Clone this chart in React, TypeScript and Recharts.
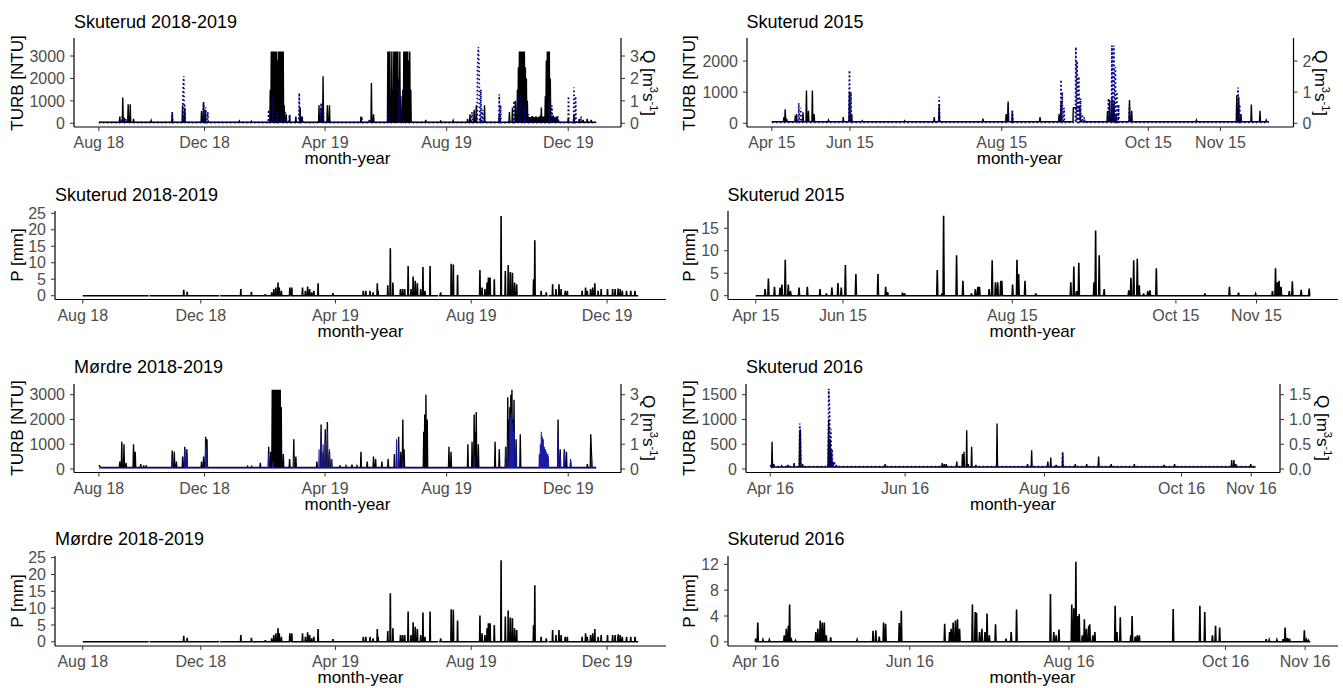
import React from 'react';
import { ComposedChart, Line, XAxis, YAxis } from 'recharts';

type Pt = (number | null)[];

// ---------- x ticks (days from first labelled date) ----------
const ticks1819 = [0, 106, 227, 349, 471];
const labels1819 = ['Aug 18', 'Dec 18', 'Apr 19', 'Aug 19', 'Dec 19'];
const end1819 = 499;
const ticks2015 = [0, 31.6, 93, 152.3, 181.5];
const labels2015 = ['Apr 15', 'Jun 15', 'Aug 15', 'Oct 15', 'Nov 15'];
const end2015 = 201;
const ticks2016 = [0, 60, 122, 183, 214];
const labels2016 = ['Apr 16', 'Jun 16', 'Aug 16', 'Oct 16', 'Nov 16'];
const end2016 = 216;

// ---------- titles ----------
const titles = [
  'Skuterud 2018-2019', 'Skuterud 2018-2019', 'Mørdre 2018-2019', 'Mørdre 2018-2019',
  'Skuterud 2015', 'Skuterud 2015', 'Skuterud 2016', 'Skuterud 2016',
];

// ---------- series: [day, value] = spike, [day, value, 0] = plain point, [day, null] = gap ----------
const skuterud1819Turb: Pt[] = [
  [0, 50, 0], [21, 300], [24, 1150], [25.6, 250], [29.4, 850], [31.5, 850], [34.8, 200], [52.5, 120], [73.6, 450], [84, 800], [86.2, 650],
  [103, 550], [105, 900], [107, 600], [141, 100], [153, 90],
  [172, 1500], [173, 3200], [174, 3200], [175, 3200], [176, 3200], [177, 3200], [178, 3200], [179, 2800], [180, 3200], [181, 3200], [182, 3200],
  [183, 3200], [184, 3200], [185, 3200], [186, 800], [188, 400],
  [191.4, 350], [197.7, 300], [202, 700], [204, 300], [220.9, 800], [223, 700], [225, 2100], [229.3, 800], [231.4, 800], [263, 300], [273.5, 1800], [275.6, 400],
  [290, 3200], [291, 3200], [292, 3200], [293, 800], [294, 3200], [295, 1500], [296, 3200], [297, 3200], [298, 3200], [299, 3200], [300, 3200],
  [301, 2000], [302, 3200], [303, 1200], [304, 600], [305, 1500], [306, 3200], [307, 3200], [308, 3200], [309, 3200], [310, 3200], [311, 2800], [312, 3200], [313, 1500],
  [328, 150], [343, 130], [355.5, 120], [370, 200], [372.4, 400], [376.6, 600], [378.7, 800], [383, 200], [387, 800], [401.8, 400], [412, 500], [415, 700],
  [418, 1000], [420, 1500], [421, 2500], [422, 3200], [423, 3200], [424, 3200], [425, 3200], [426, 3200], [427, 3200], [428, 2500], [429, 2000], [430, 1000],
  [431, 300], [432, 280], [433, 260], [434, 300], [435, 320], [436, 280], [437, 250], [438, 300], [439, 300], [440, 260], [441, 280], [442, 300],
  [443, 350], [444, 700], [445, 300], [446, 300], [447, 300], [448, 1200], [449, 2800], [450, 3200], [451, 3200], [452, 3200], [453, 2000],
  [454, 300], [455, 350], [456, 350], [457, 280], [458, 250], [459, 300], [460, 300], [461, 150],
  [471, 200], [476.8, 400], [482, 200], [486, 150], [490, 200], [494, 150], [499, 50, 0],
];
const skuterud1819Q: Pt[] = [
  [0, 0.03, 0], [23, 0.3], [27.3, 0.2], [73.6, 0.5], [84.5, 1.6], [85.2, 2.1], [86.2, 0.8], [105.1, 0.95], [107.2, 0.7], [109.3, 0.5],
  [170.4, 0.6], [174.6, 1.2], [178.8, 0.5], [183, 0.3], [187.2, 0.5], [191.4, 0.4], [201.1, 1.35], [204, 0.3], [223, 0.9], [225.1, 0.7],
  [263.8, 0.3], [271.4, 0.2], [290.3, 0.6], [300.8, 1.6], [302.1, 1.4], [374.5, 0.5], [380, 2.5], [380.8, 3.4], [381.6, 2.5], [383.3, 1.5], [385, 0.6],
  [401.8, 1.3], [403.1, 0.8], [416.6, 1.0], [420.8, 1.4], [422.9, 1.2], [427.1, 0.8], [431.3, 0.4], [452.3, 1.2], [454.5, 0.8], [460.8, 0.3],
  [471.3, 1.2], [476.8, 1.6], [478.4, 1.2], [483.9, 0.3], [499, 0.03, 0],
];
// precipitation 2018-2019 (same record shown in both left P panels)
const precip1819: Pt[] = [
  [0, 0, 0], [59.2, 0, 0], [59.6, null], [60, 0, 0], [90.7, 1.8], [93.8, 1.2], [122.6, 0, 0], [123, null], [123.4, 0, 0], [142, 2.0], [151.5, 1.2],
  [164, 0.5], [169.7, 1.0], [171.6, 2.0], [173.5, 2.5], [175.4, 4.0], [176.5, 2.5], [178.4, 1.5], [186, 2.5], [186.6, 0, 0], [186.8, null], [187.1, 0, 0],
  [187.8, 2.5], [197.4, 2.5], [200, 1.5], [202, 2.8], [203.8, 2.0], [205.7, 1.0], [207.6, 1.5], [211.4, 3.8], [224.7, 0.8], [252, 1.5], [254.3, 1.5],
  [258.1, 1.5], [260.8, 1.0], [264.6, 3.8], [265.3, 1.5], [274, 3.2], [276.3, 14.4], [278.6, 4.0], [285.4, 2.0], [287.3, 2.0], [289.2, 2.0],
  [292.3, 9.0], [294.9, 2.0], [296.8, 5.8], [298.7, 4.5], [300.6, 3.8], [303.6, 2.0], [305.6, 8.7], [307.4, 1.5], [312, 9.0],
  [319.2, 0, 0], [319.6, null], [320, 0, 0], [321.5, 1.0], [331, 9.7], [332.9, 9.5], [336.7, 6.3], [356.8, 7.8], [358.7, 2.5], [361.3, 2.0],
  [363.2, 4.0], [364.4, 5.5], [365.9, 5.5], [369.7, 5.0], [375.8, 24.2], [379.6, 7.5], [382.2, 9.3], [384.1, 7.2], [386, 7.0], [387.9, 4.0],
  [389.8, 3.5], [405, 5.0], [406.1, 16.8], [411.8, 1.5], [416.4, 1.0], [417.6, 0, 0], [418, null], [418.4, 0, 0], [422.1, 3.5], [425.1, 2.0],
  [427.8, 3.5], [429.7, 2.0], [433.4, 1.5], [435.3, 1.5], [448.6, 1.5], [451.7, 2.5], [453.2, 1.5], [456.2, 2.0], [458.1, 2.5], [460, 3.8],
  [463, 1.5], [465.7, 2.0], [471.4, 2.0], [476, 2.0], [478.2, 2.0], [480.9, 2.2], [482.8, 2.0], [484.7, 1.5], [488.5, 1.5], [492.3, 1.5],
  [496.1, 1.5], [499, 0, 0],
];
const mordre1819Turb: Pt[] = [
  [0, 150, 0], [2, 60, 0], [21, 300], [23, 1100], [25.2, 1000], [27.3, 250], [34.8, 1000], [36.5, 700], [42, 200], [45, 150], [47.5, 150],
  [73.6, 750], [75.7, 700], [77.8, 300], [84.1, 500], [86.2, 900], [88.3, 800], [103, 300], [105.1, 500], [107.2, 1300], [108.5, 1200],
  [149.3, 100], [153.5, 100], [162, 250], [170.4, 900], [172.5, 700],
  [174, 3200], [175, 3200], [176, 3200], [177, 3200], [178, 3200], [179, 3200], [180, 3200], [181, 3200], [182, 3200], [183, 2500], [185.1, 600],
  [191.4, 400], [195.6, 1200], [197.7, 500], [218.8, 300], [223, 1800], [225.1, 700], [227.2, 1600], [229.3, 1900], [231.4, 700], [233.5, 400],
  [242, 150], [248, 120], [254, 180], [259, 120], [263, 700], [269.3, 300], [275.6, 500], [277.7, 400], [284, 300], [290.3, 400], [296.6, 600],
  [300.8, 1300], [303, 700], [305, 2000], [306.3, 800], [326, 1500], [327, 2200], [328.2, 3000], [329.5, 2000], [351.3, 900], [353.4, 700],
  [370.3, 1000], [374.5, 1100], [376.6, 2200], [377.6, 1500], [378.7, 2300], [380.8, 1000], [397.6, 1100], [401.8, 800], [408.2, 900],
  [410.3, 2900], [411.3, 2000], [412.4, 2500], [413.4, 3000], [414.5, 3200], [415.5, 2000], [416.6, 2800], [418.7, 1200], [422.9, 1400],
  [444, 700], [446, 900], [448.1, 700], [450.2, 600], [460.8, 2000], [462.9, 800], [467.1, 800], [469.2, 700], [473.4, 300], [490.2, 200],
  [493.6, 1400], [494.4, 500], [499, 60, 0],
];
const mordre1819Q: Pt[] = [
  [0, 0.04, 0], [73.6, 0.4], [86.2, 0.8], [88.3, 0.6], [107.2, 1.0], [108.5, 0.8], [170.4, 0.6], [174.6, 0.3], [195.6, 0.5], [221, 0.8],
  [223, 1.5], [225.1, 1.0], [227.2, 1.2], [229.3, 1.5], [231.4, 0.8], [233.5, 0.4], [298.7, 1.2], [300.8, 0.8], [305, 0.4], [376.6, 0.5],
  [408.2, 0.8], [410.3, 1.2], [412.4, 2.0], [413.4, 2.2], [414.5, 2.3], [415.5, 1.8], [416.6, 1.5], [418.7, 0.8], [442, 0.6], [443, 1.0],
  [444, 1.5], [445, 1.3], [446, 1.2], [447, 0.9], [448.1, 0.8], [449, 0.7], [450.2, 0.6], [451, 0.5], [460.8, 1.4], [462.9, 0.6], [467.1, 0.8],
  [473.4, 0.4], [494.4, 0.5], [499, 0.04, 0],
];
const skuterud2015Turb: Pt[] = [
  [0, 50, 0], [4.9, 200], [5.4, 450], [6.1, 100], [9.5, 250], [10, 300], [12.6, 350], [14, 1050], [14.8, 400], [16.4, 1050], [17.1, 300],
  [22.9, 100], [28.9, 200], [31.4, 1000], [32.3, 300], [36.6, 80], [53.7, 80], [65.7, 200], [67.7, 600], [85.4, 150], [94.8, 300], [95.6, 700],
  [97.3, 400], [108.5, 200], [116.2, 300], [117, 700], [121.8, 50, 0], [122, 500, 0], [124.6, 500, 0], [124.8, 50, 0], [135.8, 400], [136.7, 750],
  [137.6, 800], [138.4, 700], [139.3, 300], [144.7, 750], [145.6, 400], [171.8, 100], [188.1, 900], [188.9, 850], [189.8, 300], [194, 600],
  [197.5, 400], [200, 100], [201, 50, 0],
];
const skuterud2015Q: Pt[] = [
  [0, 0.03, 0], [10.9, 0.65], [11.7, 0.5], [31.4, 1.7], [32, 1.0], [67.7, 0.85], [95.6, 0.6], [97.3, 0.4], [117, 1.4], [117.5, 1.0], [118.2, 0.5],
  [123, 2.45], [123.5, 2.0], [124.2, 1.5], [124.9, 0.8], [125.6, 0.3], [126.4, 0.2], [136.2, 0.8], [137.6, 2.5], [138.4, 2.5], [139, 1.8],
  [139.6, 1.0], [140.3, 0.6], [144.7, 0.6], [188.6, 1.15], [189.3, 0.6], [201, 0.03, 0],
];
const precip2015: Pt[] = [
  [0, 0, 0], [3.4, 1.5], [4.6, 3.8], [6.8, 2.0], [8.8, 1.8], [9.5, 2.5], [10.7, 8.0], [11.8, 2.5], [12.6, 1.0], [15.7, 1.8], [18.7, 2.0],
  [23.3, 1.5], [25.6, 0.5], [27.6, 1.8], [29.8, 2.8], [31, 1.8], [32.5, 6.8], [36.3, 4.8], [44.3, 4.8], [47.1, 2.0], [47.8, 0.8], [53.2, 0.7],
  [54, 0.5], [65.8, 5.7], [67.5, 0.5], [68.1, 17.8], [72.8, 9.0], [75.1, 3.3], [78.2, 0.5], [79.6, 1.5], [80.5, 2.0], [81.1, 2.0], [84.6, 1.5],
  [85.7, 7.9], [86.9, 3.0], [87.7, 3.0], [88.8, 3.3], [89.2, 3.3], [93.1, 2.5], [94.7, 8.0], [95.3, 4.8], [97.6, 3.3], [101.5, 0.5], [114.2, 3.0],
  [115.3, 6.5], [116.3, 1.0], [117.1, 7.3], [122.6, 3.0], [123.2, 14.5], [124.5, 9.0], [126.3, 1.5], [135.2, 1.2], [136, 4.0], [137, 7.9],
  [138.3, 8.2], [139, 2.3], [140.6, 0.5], [142.1, 1.0], [142.9, 1.2], [145.2, 6.1], [162.8, 0.5], [171.7, 2.0], [175, 0.7], [181.2, 0.4],
  [187.3, 1.0], [188.4, 6.1], [189.1, 3.0], [189.7, 3.3], [190.4, 2.0], [193.4, 1.0], [194.5, 3.2], [197.7, 1.3], [200.6, 1.6], [201, 0, 0],
];
const skuterud2016Turb: Pt[] = [
  [0, 80, 0], [0.8, 550], [1.6, 100], [5, 60], [7.8, 80], [10.6, 120], [13.1, 750], [13.4, 800], [14.4, 100], [25.7, 100], [26, 1000],
  [26.6, 600], [27.2, 300], [27.9, 150], [29.4, 80], [51.1, 100], [76.5, 120], [77.4, 100], [78.3, 100], [83, 150], [85.5, 300], [86.2, 350],
  [87.4, 780], [88.1, 100], [89.6, 450], [91.5, 80], [100.9, 920], [114.5, 100], [116.3, 380], [123.5, 150], [124.8, 230], [127.2, 80],
  [130.1, 300], [135.7, 100], [140.8, 100], [146.1, 250], [151.7, 100], [162, 100], [175.2, 80], [179.9, 100], [205.3, 180], [206.3, 180],
  [207.2, 100], [213.8, 100], [216, 40, 0],
];
const skuterud2016Q: Pt[] = [
  [0, 0.05, 0], [0.8, 0.15], [13.1, 0.92], [13.4, 0.7], [26, 1.62], [26.4, 1.2], [27, 0.8], [27.5, 0.4], [28.5, 0.15], [100.9, 0.15],
  [130.1, 0.35], [216, 0.05, 0],
];
const precip2016: Pt[] = [
  [0, 0.5], [0.8, 3.0], [2.8, 0.3], [5.3, 0.3], [11.1, 1.0], [11.9, 2.0], [12.7, 2.5], [13.2, 5.8], [13.9, 0.3], [15.5, 0.2], [23.4, 1.5],
  [24.2, 2.0], [25.1, 3.3], [25.9, 3.0], [26.7, 3.0], [27.5, 1.0], [29.2, 0.7], [39.5, 0.3], [45.7, 1.7], [46.8, 1.8], [48.1, 0.8], [49.8, 3.0],
  [50.6, 2.8], [55.9, 2.9], [56.7, 4.8], [73.6, 2.8], [75.5, 1.5], [76.1, 2.0], [76.9, 3.0], [77.8, 3.3], [78.6, 3.5], [79.4, 2.0], [84.4, 5.8],
  [85.5, 4.6], [86, 4.5], [87.2, 1.5], [88.1, 2.0], [89.3, 1.5], [90.1, 4.4], [91, 1.0], [93.4, 2.7], [97.5, 0.5], [99.5, 1.5], [101.6, 5.0],
  [114.8, 7.4], [116.1, 1.5], [117, 1.0], [118.1, 1.9], [123.1, 5.8], [123.9, 5.2], [124.7, 12.4], [125.5, 4.0], [126, 4.3], [127.2, 1.0],
  [128, 3.5], [128.8, 2.0], [129.7, 2.5], [130.1, 2.7], [131.3, 1.0], [132.1, 1.5], [140, 5.6], [140.7, 1.5], [142, 3.8], [146.1, 1.0],
  [146.6, 4.0], [147.8, 0.8], [148.6, 1.0], [149.4, 1.0], [162.6, 5.1], [173, 5.6], [174.9, 4.6], [177.9, 1.0], [179.1, 2.5], [180.7, 2.2],
  [198.8, 0.4], [200, 0.3], [203, 0.3], [205.4, 0.4], [206.2, 2.2], [207.1, 0.6], [207.9, 0.5], [213.7, 1.8], [214.5, 0.3], [215.3, 0.2],
  [216, 0, 0],
];

// ---------- helpers ----------
function build(pts: Pt[], base: number, w: number) {
  const out: { x: number; y: number | null }[] = [];
  pts.forEach((p, i) => {
    const d = p[0] as number;
    const v = p[1];
    if (p.length === 3 || v === null) {
      out.push({ x: d, y: v });
      return;
    }
    const prev = pts[i - 1];
    const next = pts[i + 1];
    if (!prev || d - (prev[0] as number) > 2 * w) out.push({ x: d - w, y: base });
    out.push({ x: d, y: v });
    if (!next || (next[0] as number) - d > 2 * w) out.push({ x: d + w, y: base });
  });
  return out;
}
const expand = (end: number): [number, number] => [-0.05 * end, end * 1.05];

const FONT = '"Liberation Sans", Arial, Helvetica, sans-serif';
const TICK = { fill: '#4d4d4d', fontSize: 16, fontFamily: FONT };

type PanelProps = {
  x0: number; x1: number; y0: number; y1: number;
  title: string; titleY: number; yTitle: React.ReactNode; yTitleX: number; qTitleX?: number;
  xTicks: number[]; xLabels: string[]; end: number;
  yDomain: [number, number]; yTicks: number[];
  main: Pt[]; mainBase: number; w: number; mainWidth: number;
  q?: Pt[]; qBase?: number; qW?: number; qTicks?: number[]; qFmt?: (v: number) => string; qDotted?: boolean; qColor?: string;
};

function Panel(p: PanelProps) {
  const leftW = 70;
  const rightW = p.q ? 44 : 6;
  const top = 10;
  const bottom = 34;
  const width = p.x1 - p.x0 + leftW + rightW;
  const height = p.y1 - p.y0 + top + bottom;
  const cx = (p.x0 + p.x1) / 2;
  const cy = (p.y0 + p.y1) / 2;
  const mainData = build(p.main, p.mainBase, p.w);
  const qData = p.q ? build(p.q, p.qBase || 0, p.qW ?? p.w) : undefined;
  const rDomain: [number, number] = [p.yDomain[0] / 1000, p.yDomain[1] / 1000];
  return (
    <>
      <div style={{ position: 'absolute', left: p.x0 - leftW, top: p.y0 - top }}>
        <ComposedChart width={width} height={height} margin={{ top, right: p.q ? 0 : rightW, bottom: 0, left: 0 }}>
          <XAxis
            type="number" dataKey="x" domain={expand(p.end)} ticks={p.xTicks} interval={0} allowDataOverflow
            tickFormatter={(v: number) => p.xLabels[p.xTicks.indexOf(v)] ?? ''}
            height={bottom} tickSize={4} tickMargin={6} tick={TICK}
            axisLine={{ stroke: '#000', strokeWidth: 1.2 }} tickLine={{ stroke: '#333', strokeWidth: 1 }}
          />
          <YAxis
            yAxisId="l" type="number" domain={p.yDomain} ticks={p.yTicks} interval={0} allowDataOverflow width={leftW}
            tickSize={4} tickMargin={5} tick={TICK}
            axisLine={{ stroke: '#000', strokeWidth: 1.2 }} tickLine={{ stroke: '#333', strokeWidth: 1 }}
          />
          {p.q && (
            <YAxis
              yAxisId="r" orientation="right" type="number" domain={rDomain} ticks={p.qTicks} interval={0} allowDataOverflow
              width={rightW} tickSize={4} tickMargin={5} tick={TICK} tickFormatter={p.qFmt}
              axisLine={{ stroke: '#000', strokeWidth: 1.2 }} tickLine={{ stroke: '#333', strokeWidth: 1 }}
            />
          )}
          <Line
            yAxisId="l" data={mainData} dataKey="y" type="linear" dot={false} activeDot={false}
            stroke="#000" strokeWidth={p.mainWidth} isAnimationActive={false} connectNulls={false}
          />
          {p.q && (
            <Line
              yAxisId="r" data={qData} dataKey="y" type="linear" dot={false} activeDot={false}
              stroke={p.qColor} strokeWidth={p.qDotted ? 1.7 : 1.1} strokeDasharray={p.qDotted ? '1.6 2.4' : undefined}
              isAnimationActive={false} connectNulls={false}
            />
          )}
        </ComposedChart>
      </div>
      <div style={{ position: 'absolute', left: p.x0, top: p.titleY - 11, fontSize: 18, lineHeight: '22px', color: '#000', whiteSpace: 'nowrap' }}>
        {p.title}
      </div>
      <div style={{ position: 'absolute', left: p.yTitleX - 80, top: cy - 11, width: 160, height: 22, lineHeight: '22px', textAlign: 'center', fontSize: 17, color: '#000', transform: 'rotate(-90deg)', whiteSpace: 'nowrap' }}>
        {p.yTitle}
      </div>
      {p.q && p.qTitleX !== undefined && (
        <div style={{ position: 'absolute', left: p.qTitleX - 80, top: cy - 11, width: 160, height: 22, lineHeight: '22px', textAlign: 'center', fontSize: 17, color: '#000', transform: 'rotate(90deg)', whiteSpace: 'nowrap' }}>
          Q [m<sup style={{ fontSize: 11, lineHeight: 0 }}>3</sup>s<sup style={{ fontSize: 11, lineHeight: 0 }}>-1</sup>]
        </div>
      )}
      <div style={{ position: 'absolute', left: cx - 80, top: p.y1 + 32 - 11, width: 160, lineHeight: '22px', textAlign: 'center', fontSize: 17, color: '#000' }}>
        month-year
      </div>
    </>
  );
}

const turbTicks3000 = [0, 1000, 2000, 3000];
const turbTicks2000 = [0, 1000, 2000];
const turbTicks1500 = [0, 500, 1000, 1500];
const qTicks3 = [0, 1, 2, 3];
const qTicks2 = [0, 1, 2];
const qTicks15 = [0, 0.5, 1, 1.5];
const pTicks25 = [0, 5, 10, 15, 20, 25];
const pTicks15 = [0, 5, 10, 15];
const pTicks12 = [0, 4, 8, 12];

export default function App() {
  const blue = '#00008b';
  return (
    <div style={{ position: 'fixed', left: 0, top: 0, width: 1343, height: 688, background: '#fff', overflow: 'hidden', fontFamily: FONT }}>
      <Panel x0={74} x1={621} y0={38} y1={127} title={titles[0]} titleY={21.5} yTitle="TURB [NTU]" yTitleX={18} qTitleX={648}
        xTicks={ticks1819} xLabels={labels1819} end={end1819} yDomain={[-165, 3803]} yTicks={turbTicks3000}
        main={skuterud1819Turb} mainBase={50} w={0.45} mainWidth={1.4}
        q={skuterud1819Q} qBase={0.03} qTicks={qTicks3} qFmt={(v) => String(v)} qDotted qColor={blue} />
      <Panel x0={55} x1={666} y0={211} y1={299.5} title={titles[1]} titleY={195} yTitle="P [mm]" yTitleX={18}
        xTicks={ticks1819} xLabels={labels1819} end={end1819} yDomain={[-1.15, 25.7]} yTicks={pTicks25}
        main={precip1819} mainBase={0} w={0.3} mainWidth={1.6} />
      <Panel x0={74} x1={621} y0={384} y1={472.5} title={titles[2]} titleY={367} yTitle="TURB [NTU]" yTitleX={18} qTitleX={648}
        xTicks={ticks1819} xLabels={labels1819} end={end1819} yDomain={[-141, 3432]} yTicks={turbTicks3000}
        main={mordre1819Turb} mainBase={60} w={0.45} mainWidth={1.4}
        q={mordre1819Q} qBase={0.04} qW={0.3} qTicks={qTicks3} qFmt={(v) => String(v)} qColor="#1a1aa6" />
      <Panel x0={55} x1={666} y0={555.5} y1={645.5} title={titles[3]} titleY={538.5} yTitle="P [mm]" yTitleX={18}
        xTicks={ticks1819} xLabels={labels1819} end={end1819} yDomain={[-1.25, 25.5]} yTicks={pTicks25}
        main={precip1819} mainBase={0} w={0.3} mainWidth={1.6} />
      <Panel x0={746.5} x1={1293} y0={38} y1={127} title={titles[4]} titleY={21.5} yTitle="TURB [NTU]" yTitleX={690} qTitleX={1320}
        xTicks={ticks2015} xLabels={labels2015} end={end2015} yDomain={[-119, 2738]} yTicks={turbTicks2000}
        main={skuterud2015Turb} mainBase={50} w={0.2} mainWidth={1.4}
        q={skuterud2015Q} qBase={0.03} qTicks={qTicks2} qFmt={(v) => String(v)} qDotted qColor={blue} />
      <Panel x0={727.5} x1={1337.5} y0={211} y1={299.5} title={titles[5]} titleY={195} yTitle="P [mm]" yTitleX={690}
        xTicks={ticks2015} xLabels={labels2015} end={end2015} yDomain={[-0.85, 18.85]} yTicks={pTicks15}
        main={precip2015} mainBase={0} w={0.2} mainWidth={1.6} />
      <Panel x0={746} x1={1280} y0={384} y1={472.5} title={titles[6]} titleY={367} yTitle="TURB [NTU]" yTitleX={690} qTitleX={1322}
        xTicks={ticks2016} xLabels={labels2016} end={end2016} yDomain={[-71, 1716]} yTicks={turbTicks1500}
        main={skuterud2016Turb} mainBase={40} w={0.2} mainWidth={1.4}
        q={skuterud2016Q} qBase={0.05} qTicks={qTicks15} qFmt={(v) => v.toFixed(1)} qDotted qColor={blue} />
      <Panel x0={727.5} x1={1337.5} y0={555.5} y1={645.5} title={titles[7]} titleY={538.5} yTitle="P [mm]" yTitleX={690}
        xTicks={ticks2016} xLabels={labels2016} end={end2016} yDomain={[-0.65, 13.3]} yTicks={pTicks12}
        main={precip2016} mainBase={0} w={0.2} mainWidth={1.6} />
    </div>
  );
}
